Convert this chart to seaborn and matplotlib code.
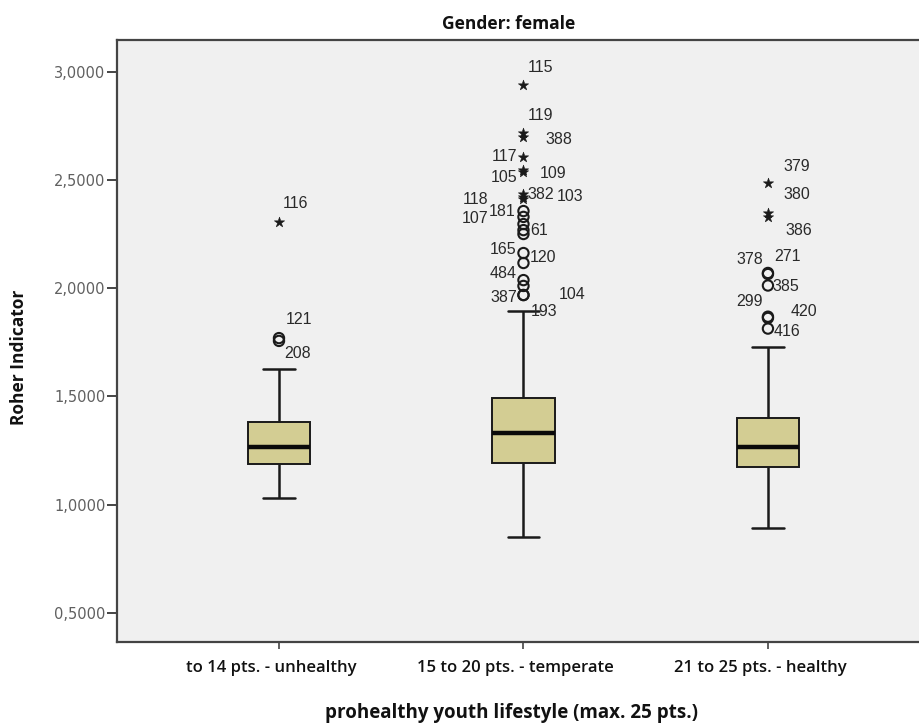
import numpy as np
import pandas as pd
import matplotlib
matplotlib.use("Agg")
import matplotlib.pyplot as plt
import matplotlib.transforms as mtransforms
import seaborn as sns

# ---------------- data ----------------
categories = ["to 14 pts. - unhealthy", "15 to 20 pts. - temperate", "21 to 25 pts. - healthy"]
whisker_low = [1.030, 0.850, 0.893]
q1_values = [1.187, 1.193, 1.173]
median_values = [1.266, 1.332, 1.267]
q3_values = [1.383, 1.494, 1.400]
whisker_high = [1.624, 1.896, 1.729]

outlier_group = [0, 0, 0,
                 1, 1, 1, 1, 1, 1, 1, 1, 1, 1, 1, 1, 1, 1, 1, 1, 1, 1, 1, 1, 1,
                 2, 2, 2, 2, 2, 2, 2, 2, 2]
outlier_value = [2.307, 1.769, 1.756,
                 2.939, 2.718, 2.698, 2.607, 2.546, 2.537, 2.435, 2.421, 2.412,
                 2.356, 2.329, 2.296, 2.268, 2.250, 2.162, 2.116, 2.037, 2.010,
                 1.968, 1.968, 1.896,
                 2.484, 2.349, 2.329, 2.070, 2.065, 2.012, 1.868, 1.862, 1.813]
outlier_kind = ["star", "circle", "circle",
                "star", "star", "star", "star", "star", "star", "star", "star", "star",
                "circle", "circle", "circle", "circle", "circle", "circle", "circle", "circle", "circle",
                "circle", "circle", "none",
                "star", "star", "star", "circle", "circle", "circle", "circle", "circle", "circle"]
outlier_label = ["116", "121", "208",
                 "115", "119", "388", "117", "105", "109", "382", "103", "118",
                 "181", "107", "", "61", "", "165", "120", "484", "",
                 "387", "104", "193",
                 "379", "380", "386", "378", "271", "385", "299", "420", "416"]

# label placement (pixels: dx to anchor, dy downward, horizontal alignment)
label_offsets = [(4, -18, "left"), (7, -19, "left"), (5, 13, "left"),
                 (4, -17, "left"), (4, -17, "left"), (22, 2, "left"), (-6, 0, "right"),
                 (-6, 8, "right"), (16, 2, "left"), (4, 1, "left"), (33, -1, "left"),
                 (-35, 1, "right"),
                 (-8, 0, "right"), (-35, 2, "right"), (0, 0, "left"), (7, 0, "left"),
                 (0, 0, "left"), (-7, -4, "right"), (6, -6, "left"), (-7, -7, "right"),
                 (0, 0, "left"),
                 (-6, 2, "right"), (35, -1, "left"), (7, 1, "left"),
                 (16, -17, "left"), (16, -18, "left"), (18, 14, "left"), (-5, -13, "right"),
                 (6, -18, "left"), (5, 1, "left"), (-5, -15, "right"), (23, -6, "left"),
                 (6, 3, "left")]

title_text = "Gender: female"
x_title = "prohealthy youth lifestyle (max. 25 pts.)"
y_title = "Roher Indicator"
y_ticks = [0.5, 1.0, 1.5, 2.0, 2.5, 3.0]

# ---------------- build tables ----------------
box_rows = []
for i, c in enumerate(categories):
    for v in (whisker_low[i], q1_values[i], median_values[i], q3_values[i], whisker_high[i]):
        box_rows.append({"group": i, "value": v})
box_df = pd.DataFrame(box_rows)

out_df = pd.DataFrame({"group": outlier_group, "value": outlier_value,
                       "kind": outlier_kind, "label": outlier_label})

# ---------------- style ----------------
sns.set_theme(style="ticks")
plt.rcParams["font.family"] = ["Open Sans", "DejaVu Sans"]

fig = plt.figure(figsize=(9.2, 7.26), dpi=100)
fig.patch.set_facecolor("white")
ax = fig.add_axes([0.1268, 0.1161, 0.8732, 0.8288])
ax.set_facecolor("#f0f0f0")

sns.boxplot(data=box_df, x="group", y="value", whis=(0, 100), width=0.255,
            color="#d3cd93", linecolor="#1a1a1a", linewidth=1.4, showfliers=False,
            saturation=1, native_scale=True,
            medianprops={"color": "#0a0a0a", "linewidth": 3.2},
            whiskerprops={"linewidth": 1.8}, capprops={"linewidth": 1.8},
            capwidths=0.13, ax=ax)

circ = out_df[out_df["kind"] == "circle"]
star = out_df[out_df["kind"] == "star"]
sns.scatterplot(data=circ, x="group", y="value", marker="o", s=55,
                facecolor="none", edgecolor="#1a1a1a", linewidth=1.5, ax=ax, zorder=5)
sns.scatterplot(data=star, x="group", y="value", marker="*", s=60,
                color="#1a1a1a", edgecolor="#1a1a1a", linewidth=0.4, ax=ax, zorder=5)

for g, v, lab, (dx, dy, ha) in zip(outlier_group, outlier_value, outlier_label, label_offsets):
    if lab:
        ax.annotate(lab, (g, v), xytext=(dx, -dy), textcoords="offset pixels",
                    ha=ha, va="center", fontsize=11.5, color="#2a2a2a",
                    family=["Liberation Sans", "DejaVu Sans"])

ax.set_xlim(-0.664, 2.622)
ax.set_ylim(0.366, 3.1465)
ax.set_xticks(range(len(categories)))
ax.set_xticklabels(categories, fontsize=12, fontweight="semibold", color="#111111")
ax.set_yticks(y_ticks)
ax.set_yticklabels([f"{t:.4f}".replace(".", ",") for t in y_ticks], fontsize=10.5,
                   color="#606060", family=["DejaVu Sans"])
ax.tick_params(axis="y", length=7, width=1.4, color="#444444", pad=1)
ax.tick_params(axis="x", length=5, width=1.2, color="#444444", pad=8)

shift = mtransforms.ScaledTranslation(-8 / 100, 0, fig.dpi_scale_trans)
for lbl in ax.get_xticklabels():
    lbl.set_transform(lbl.get_transform() + shift)

for side in ("left", "bottom", "top"):
    ax.spines[side].set_color("#444444")
    ax.spines[side].set_linewidth(1.6)
ax.spines["right"].set_visible(False)

ax.set_xlabel(x_title, fontsize=13.5, fontweight="bold", color="#111111")
ax.xaxis.set_label_coords(0.492, -0.1185)
ax.xaxis.label.set_va("center")
ax.set_ylabel(y_title, fontsize=12.5, fontweight="bold", color="#111111")
ax.yaxis.set_label_coords(-0.1104, 0.473)
ax.set_title(title_text, fontsize=12.5, fontweight="bold", color="#111111",
             x=0.488, pad=8)

fig.savefig("out.png", dpi=100, facecolor="white")
